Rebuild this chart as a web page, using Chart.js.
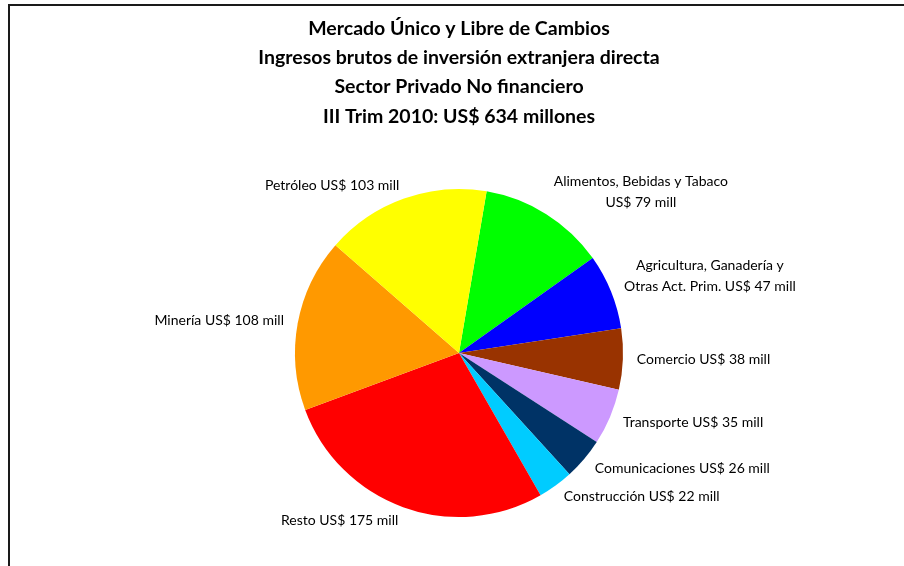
<!DOCTYPE html>
<html>
<head>
<meta charset="utf-8">
<script src="https://cdn.jsdelivr.net/npm/chart.js@4/dist/chart.umd.min.js"></script>
<style>
  body { margin: 0; background: #fff; }
  #wrap { position: relative; width: 904px; height: 566px; overflow: hidden; }
  #frame { position: absolute; left: 8px; top: 4px; width: 920px; height: 600px;
           border-top: 2px solid #1a1a1a; border-left: 2px solid #1a1a1a; }
  canvas { position: absolute; left: 0; top: 0; }
</style>
</head>
<body>
<div id="wrap">
  <div id="frame"></div>
  <canvas id="chart" width="904" height="566"></canvas>
</div>
<script>
const titleLines = [
  'Mercado Único y Libre de Cambios',
  'Ingresos brutos de inversión extranjera directa',
  'Sector Privado No financiero',
  'III Trim 2010: US$ 634 millones'
];

const categories = [
  'Alimentos, Bebidas y Tabaco\n',
  'Agricultura, Ganadería y\nOtras Act. Prim.',
  'Comercio',
  'Transporte',
  'Comunicaciones',
  'Construcción',
  'Resto',
  'Minería',
  'Petróleo'
];
const values = [79, 47, 38, 35, 26, 22, 175, 108, 103];
const colors = ['#00FF00', '#0000FF', '#993300', '#CC99FF', '#003366', '#00CCFF', '#FF0000', '#FF9900', '#FFFF00'];

const labelFont = '14px Lato';

// draws the slice labels outside the pie
const outsideLabels = {
  id: 'outsideLabels',
  afterDatasetsDraw(chart) {
    const ctx = chart.ctx;
    const meta = chart.getDatasetMeta(0);
    ctx.save();
    ctx.font = labelFont;
    ctx.fillStyle = '#000';
    ctx.textBaseline = 'middle';
    meta.data.forEach((arc, i) => {
      const p = arc.getProps(['x', 'y', 'startAngle', 'endAngle', 'outerRadius'], true);
      const mid = (p.startAngle + p.endAngle) / 2;
      const r = p.outerRadius + 14;
      const ax = p.x + Math.cos(mid) * r;
      const ay = p.y + Math.sin(mid) * r;
      const text = `${categories[i]} US$ ${values[i]} mill`;
      const lines = text.split('\n').map(s => s.trim());
      const lh = 21;
      const w = Math.max(...lines.map(l => ctx.measureText(l).width));
      const right = Math.cos(mid) >= 0;
      const cx = right ? ax + w / 2 : ax - w / 2;
      ctx.textAlign = 'center';
      lines.forEach((l, k) => {
        const y = ay - (lines.length - 1 - k) * lh;
        ctx.fillText(l, cx, y);
      });
    });
    ctx.restore();
  }
};

const ctx = document.getElementById('chart').getContext('2d');
new Chart(ctx, {
  type: 'pie',
  data: {
    labels: categories,
    datasets: [{
      data: values,
      backgroundColor: colors,
      borderWidth: 0
    }]
  },
  options: {
    responsive: false,
    animation: false,
    rotation: 9.7,
    layout: { padding: { left: 14, right: 0, top: 0, bottom: 49 } },
    plugins: {
      legend: { display: false },
      tooltip: { enabled: false },
      title: {
        display: true,
        text: titleLines,
        color: '#000',
        font: { family: 'Lato', size: 19.5, weight: 'bold', lineHeight: 1.5 },
        padding: { top: 14, bottom: 58 }
      }
    }
  },
  plugins: [outsideLabels]
});
</script>
</body>
</html>
